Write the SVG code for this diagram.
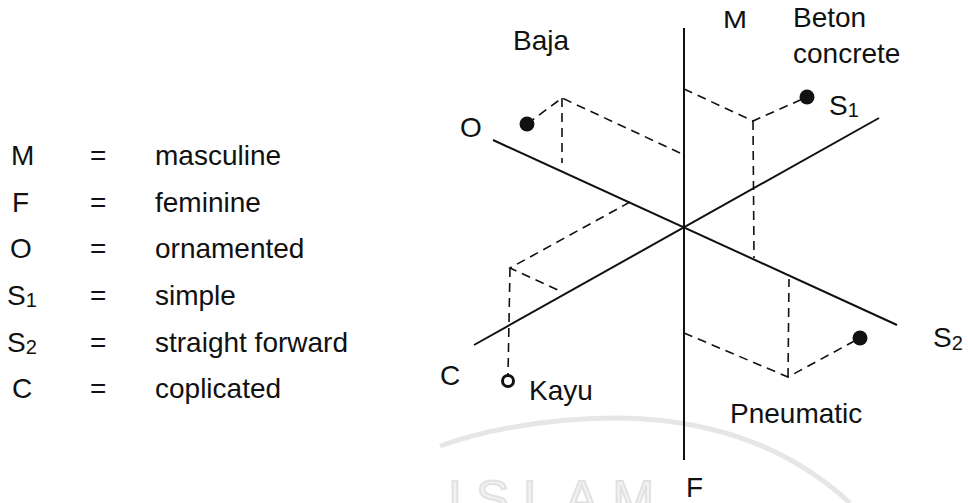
<svg xmlns="http://www.w3.org/2000/svg" width="968" height="503" viewBox="0 0 968 503">
<style>
text{font-family:"Liberation Sans",Arial,sans-serif;font-size:28px;fill:#111}
.sub{font-size:20px}
.axis{stroke:#111;stroke-width:2;fill:none}
.dash{stroke:#111;stroke-width:1.6;fill:none;stroke-dasharray:9 6}
.wm{fill:none;stroke:#e6e6e6;stroke-width:5}
.wmt{font-size:50px;fill:#f2f2f2;stroke:#e2e2e2;stroke-width:2;letter-spacing:14px}
</style>
<rect width="968" height="503" fill="#fff"/>
<g id="watermark">
<path class="wm" d="M440 446 Q520 418 620 418 Q760 420 850 503"/>
<text class="wmt" x="448" y="516">ISLAM</text>
</g>
<g id="legend">
<text x="11" y="165">M</text><text x="90" y="165">=</text><text x="155" y="165">masculine</text>
<text x="12" y="212">F</text><text x="90" y="212">=</text><text x="155" y="212">feminine</text>
<text x="10" y="258">O</text><text x="90" y="258">=</text><text x="155" y="258">ornamented</text>
<text x="7" y="305">S<tspan class="sub" dy="2">1</tspan></text><text x="90" y="305">=</text><text x="155" y="305">simple</text>
<text x="7" y="352">S<tspan class="sub" dy="2">2</tspan></text><text x="90" y="352">=</text><text x="155" y="352">straight forward</text>
<text x="12" y="398">C</text><text x="90" y="398">=</text><text x="155" y="398">coplicated</text>
</g>
<g id="connectors">
<line class="axis" x1="684" y1="28" x2="684" y2="460"/>
<line class="axis" x1="493" y1="140" x2="897" y2="325"/>
<line class="axis" x1="474" y1="345" x2="879" y2="118"/>
<polyline class="dash" points="527,124 562,98 680,153"/>
<line class="dash" x1="562" y1="98" x2="562" y2="163"/>
<polyline class="dash" points="684,89 753,121 807,97"/>
<line class="dash" x1="753" y1="121" x2="754" y2="258"/>
<polyline class="dash" points="684,333 788,377 860,338"/>
<line class="dash" x1="788" y1="377" x2="789" y2="279"/>
<polyline class="dash" points="630,202 510,268 558,290"/>
<line class="dash" x1="510" y1="268" x2="508" y2="375"/>
</g>
<g id="axis-labels">
<text x="723" y="28" textLength="24" lengthAdjust="spacingAndGlyphs" style="font-size:24px">M</text>
<text x="686" y="497">F</text>
<text x="460" y="137">O</text>
<text x="440" y="385">C</text>
<text x="829" y="115">S<tspan class="sub" dy="2">1</tspan></text>
<text x="933" y="347">S<tspan class="sub" dy="3">2</tspan></text>
</g>
<g id="baja"><circle cx="527" cy="124" r="7.5" fill="#111"/><text x="513" y="50">Baja</text></g>
<g id="beton"><circle cx="807" cy="97" r="7.5" fill="#111"/><text x="793" y="27">Beton</text><text x="793" y="63">concrete</text></g>
<g id="pneumatic"><circle cx="860" cy="338" r="7.5" fill="#111"/><text x="730" y="423">Pneumatic</text></g>
<g id="kayu"><circle cx="508" cy="381" r="5.5" fill="#fff" stroke="#111" stroke-width="3"/><text x="529" y="400">Kayu</text></g>
</svg>
